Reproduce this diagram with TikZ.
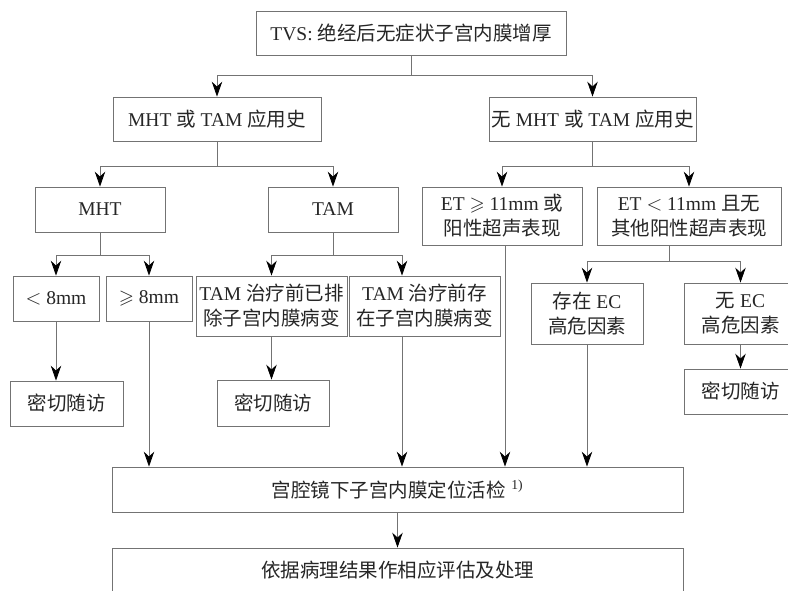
\documentclass[tikz,border=0pt]{standalone}
\usepackage{amssymb}
\usepackage{fontspec}
\setmainfont{Liberation Serif}[Scale=1.0]
\newfontfamily\zhfont{Noto Sans CJK SC}
\newcommand\zh[1]{{\zhfont #1}}
\usetikzlibrary{arrows.meta}
\begin{document}
\begin{tikzpicture}[x=1pt,y=-1pt,
  box/.style={draw=black!55, line width=0.8pt, inner sep=0pt, align=center,
    font=\fontsize{19.5}{25}\selectfont, text=black!85},
  ln/.style={draw=black!55, line width=0.8pt},
  arr/.style={ln, -{Stealth[length=15pt,width=10.5pt,inset=5pt,color=black]}}]
\useasboundingbox (0,0) rectangle (788,590);
\fill[white] (0,0) rectangle (788,590);
% level 0
\node[box,minimum width=310pt,minimum height=44pt] (tvs) at (411,33) {TVS: \zh{绝经后无症状子宫内膜增厚}};
% level 1
\node[box,minimum width=208pt,minimum height=44pt] (hist) at (217,119) {MHT \zh{或} TAM \zh{应用史}};
\node[box,minimum width=207pt,minimum height=44pt] (nohist) at (592.5,119) {\zh{无} MHT \zh{或} TAM \zh{应用史}};
% level 2
\node[box,minimum width=130pt,minimum height=45pt] (mht) at (100,209.5) {MHT};
\node[box,minimum width=130pt,minimum height=45pt] (tam) at (333,209.5) {TAM};
\node[box,minimum width=160pt,minimum height=58pt] (et1) at (502,216) {ET $\geqslant$ 11mm \zh{或}\\\zh{阳性超声表现}};
\node[box,minimum width=184pt,minimum height=58pt] (et2) at (689,216) {ET $<$ 11mm \zh{且无}\\\zh{其他阳性超声表现}};
% level 3
\node[box,minimum width=86pt,minimum height=45pt] (lt8) at (56,298.5) {$<$ 8mm};
\node[box,minimum width=86pt,minimum height=45pt] (ge8) at (149,298.5) {$\geqslant$ 8mm};
\node[box,minimum width=151pt,minimum height=60pt] (tamex) at (271.5,306) {TAM \zh{治疗前已排}\\\zh{除子宫内膜病变}};
\node[box,minimum width=151pt,minimum height=60pt] (tampre) at (424.5,306) {TAM \zh{治疗前存}\\\zh{在子宫内膜病变}};
\node[box,minimum width=112pt,minimum height=61pt] (ecyes) at (587,313.5) {\zh{存在} EC\\\zh{高危因素}};
\node[box,minimum width=113pt,minimum height=61pt] (ecno) at (740.5,313.5) {\zh{无} EC\\\zh{高危因素}};
% follow-ups
\node[box,minimum width=113pt,minimum height=45pt] (fu1) at (66.5,403.5) {\zh{密切随访}};
\node[box,minimum width=112pt,minimum height=46pt] (fu2) at (273,403) {\zh{密切随访}};
\node[box,minimum width=113pt,minimum height=45pt] (fu3) at (740.5,391.5) {\zh{密切随访}};
% bottom
\node[box,minimum width=571pt,minimum height=45pt] (bio) at (397.5,489.5) {\zh{宫腔镜下子宫内膜定位活检}\;\textsuperscript{1)}};
\node[box,minimum width=571pt,minimum height=45pt] (final) at (397.5,570.5) {\zh{依据病理结果作相应评估及处理}};
% junctions
\coordinate (j1) at (411,75);
\coordinate (j2) at (217,166);
\coordinate (j3) at (592.5,166);
\coordinate (j4) at (100,255);
\coordinate (j5) at (333,255);
\coordinate (j6) at (669,261);
% connectors
\draw[ln] (tvs.south) -- (j1);
\draw[arr] (j1) -| (hist.north);
\draw[arr] (j1) -| (nohist.north);
\draw[ln] (hist.south) -- (j2);
\draw[arr] (j2) -| (mht.north);
\draw[arr] (j2) -| (tam.north);
\draw[ln] (nohist.south) -- (j3);
\draw[arr] (j3) -| (et1.north);
\draw[arr] (j3) -| (et2.north);
\draw[ln] (mht.south) -- (j4);
\draw[arr] (j4) -| (lt8.north);
\draw[arr] (j4) -| (ge8.north);
\draw[ln] (tam.south) -- (j5);
\draw[arr] (j5) -| (tamex.north);
\draw[arr] (j5) -| ([xshift=-22.5pt]tampre.north);
\draw[ln] ([xshift=-20pt]et2.south) -- (j6);
\draw[arr] (j6) -| (ecyes.north);
\draw[arr] (j6) -| (ecno.north);
\draw[arr] (lt8.south) -- (lt8.south |- fu1.north);
\draw[arr] (tamex.south) -- (tamex.south |- fu2.north);
\draw[arr] (ecno.south) -- (fu3.north);
\draw[arr] (ge8.south) -- (ge8.south |- bio.north);
\draw[arr] ([xshift=-22.5pt]tampre.south) -- ([xshift=-22.5pt]tampre.south |- bio.north);
\draw[arr] ([xshift=3pt]et1.south) -- ([xshift=3pt]et1.south |- bio.north);
\draw[arr] (ecyes.south) -- (ecyes.south |- bio.north);
\draw[arr] (bio.south) -- (final.north);
\end{tikzpicture}
\end{document}
